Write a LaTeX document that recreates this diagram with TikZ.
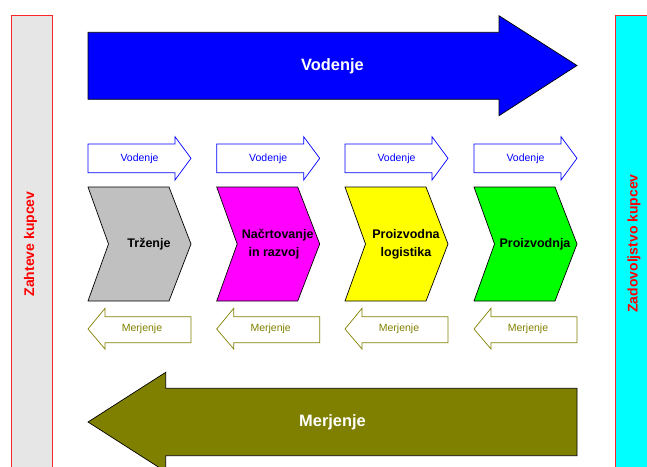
\documentclass[tikz,border=0pt]{standalone}
\usepackage{fontspec}
\setmainfont{Liberation Sans}
\definecolor{olivex}{HTML}{808000}
\definecolor{sidegray}{HTML}{E6E6E6}
\definecolor{chgray}{HTML}{C0C0C0}
\definecolor{cyanx}{HTML}{00FFFF}
\definecolor{magentax}{HTML}{FF00FF}
\definecolor{yellowx}{HTML}{FFFF00}
\definecolor{greenx}{HTML}{00FF00}
\definecolor{bluex}{HTML}{0000FF}
\definecolor{redx}{HTML}{FF0000}
\begin{document}
\begin{tikzpicture}[x=1pt,y=-1pt,
  outline/.style={draw=black,line width=0.7pt,line join=miter},
  sidebar/.style={draw=redx!85,line width=0.8pt},
  sidelabel/.style={text=redx,font=\fontsize{14}{16}\selectfont\bfseries,rotate=90},
  biglabel/.style={text=white,font=\fontsize{16.4}{19}\selectfont\bfseries},
  chlabel/.style={text=black,font=\fontsize{12.5}{18}\selectfont\bfseries,align=center},
  vodlabel/.style={text=bluex,font=\fontsize{10.5}{12}\selectfont},
  merlabel/.style={text=olivex,font=\fontsize{10.5}{12}\selectfont},
  vodarrow/.style={draw=bluex,fill=white,line width=0.7pt},
  merarrow/.style={draw=olivex,fill=white,line width=0.7pt}]
\useasboundingbox (0,0) rectangle (647,466);
\clip (0,0) rectangle (647,466);

% side bars
\draw[sidebar,fill=sidegray] (11,15.7) rectangle (52.7,480);
\draw[sidebar,fill=cyanx] (615,15.7) rectangle (670,480);
\node[sidelabel] (req) at (30.5,244) {Zahteve kupcev};
\node[sidelabel] (sat) at (634,243.5) {Zadovoljstvo kupcev};

% large management arrow
\draw[outline,fill=bluex] (88,32.3) -- (499,32.3) -- (499,15.7) -- (577,65.5)
  -- (499,115.7) -- (499,99.3) -- (88,99.3) -- cycle;
\node[biglabel] (vodbig) at (332.5,66) {Vodenje};

% large measurement arrow
\draw[outline,fill=olivex] (577,388.3) -- (165.7,388.3) -- (165.7,372.3) -- (88,422)
  -- (165.7,471.7) -- (165.7,455.7) -- (577,455.7) -- cycle;
\node[biglabel] (merbig) at (332.5,422.5) {Merjenje};

% process columns
\foreach \x/\c/\t [count=\i] in {88/chgray/{Trženje},
    216.7/magentax/{Načrtovanje\\in razvoj\phantom{n}},
    345/yellowx/{Proizvodna\\logistika},
    474/greenx/{Proizvodnja}} {
  \draw[vodarrow] (\x,144) -- (\x+87,144) -- (\x+87,136.7) -- (\x+103,158.3)
    -- (\x+87,180) -- (\x+87,172.7) -- (\x,172.7) -- cycle;
  \node[vodlabel] (vod\i) at (\x+51.5,158.3) {Vodenje};
  \draw[outline,fill=\c] (\x,187) -- (\x+81,187) -- (\x+103,244) -- (\x+81,301)
    -- (\x,301) -- (\x+20.5,244) -- cycle;
  \node[chlabel] (proc\i) at (\x+61,244) {\t};
  \draw[merarrow] (\x+103,316.7) -- (\x+17,316.7) -- (\x+17,308.3) -- (\x,329)
    -- (\x+17,349) -- (\x+17,342.7) -- (\x+103,342.7) -- cycle;
  \node[merlabel] (mer\i) at (\x+54,329) {Merjenje};
}
\end{tikzpicture}
\end{document}
